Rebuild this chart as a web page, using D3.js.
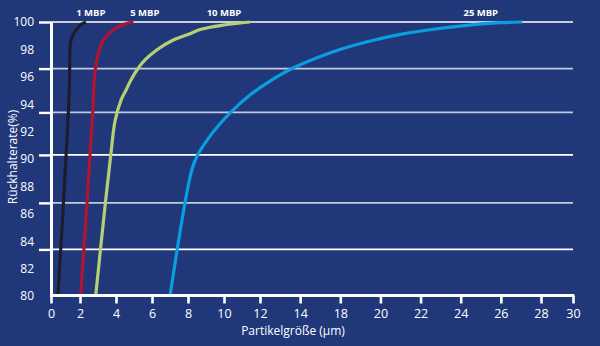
<!DOCTYPE html>
<html><head><meta charset="utf-8">
<script src="https://cdn.jsdelivr.net/npm/d3@7/dist/d3.min.js"></script>
<style>html,body{margin:0;padding:0;background:#20387a;} svg{display:block;}</style>
</head><body><svg id="c" width="600" height="346"></svg>
<script>
// ---- data ----
const xTicks = [0, 2, 4, 6, 8, 10, 12, 14, 18, 20, 22, 24, 26, 28, 30];
const yLabels = [80, 82, 84, 86, 88, 90, 92, 94, 96, 98, 100];
const gridValues = [100, 96.6, 93.4, 90.3, 86.8, 83.4];
const seriesNames = ["1 MBP", "5 MBP", "10 MBP", "25 MBP"];
const labelX = [2.6, 5.6, 10, 25];
const mbp1 = [[0.48,80],[1.26,95.0],[1.31,97.96],[1.38,98.69],[1.59,99.2],[1.83,99.56],[2.09,99.85],[2.33,100]];
const mbp5 = [[2.04,80],[2.71,93.4],[2.79,95.8],[2.93,97.2],[3.07,97.96],[3.21,98.47],[3.48,98.98],[3.85,99.42],[4.22,99.71],[4.67,99.93],[4.97,100]];
const mbp10 = [[2.87,80],[3.41,86.8],[3.71,90.3],[3.95,92.8],[4.28,94.3],[4.56,95.04],[4.83,95.77],[5.24,96.64],[5.61,97.23],[6.26,97.96],[7.18,98.69],[8.21,99.2],[8.67,99.45],[9.78,99.74],[11.44,100]];
const mbp25 = [[7.0,80],[8.21,89.2],[8.54,90.3],[9.07,91.4],[9.67,92.41],[10.44,93.5],[11.44,94.67],[12.5,95.69],[13.65,96.64],[17.3,97.83],[19.34,98.56],[20.99,99.1],[22.63,99.47],[24.32,99.76],[25.96,99.95],[27.06,100]];
const seriesData = [mbp1, mbp5, mbp10, mbp25];
const seriesColors = ["#1c1c2c", "#b2132e", "#b7cf73", "#0a9ee0"];

// ---- scales ----
const svg = d3.select("#c");
const FONT = "'Open Sans', 'Noto Sans', sans-serif";
// tick positions along the axis are uneven in the original; anchor by tick index
const xIdx = d3.scaleLinear().domain([0, 1, 6, 13, 14]).range([51, 80, 260, 541, 573]);
const x = d3.scaleLinear().domain(xTicks).range(xTicks.map((d, i) => xIdx(i)));
const y = d3.scaleLinear().domain([80, 100]).range([296, 22]);

// gridlines
const greyIdx = [1, 2, 4];
svg.append("g").selectAll("line").data(gridValues).join("line")
  .attr("x1", x(0)).attr("x2", x(30))
  .attr("y1", d => y(d)).attr("y2", d => y(d))
  .attr("stroke", (d, i) => greyIdx.includes(i) ? "#c3c9dc" : "#ffffff")
  .attr("stroke-width", 1.6);

// curves
const line = d3.line().x(d => x(d[0])).y(d => y(d[1])).curve(d3.curveCatmullRom.alpha(0.5));
svg.append("g").selectAll("path").data(seriesData).join("path")
  .attr("d", line).attr("fill", "none")
  .attr("stroke", (d, i) => seriesColors[i]).attr("stroke-width", 3.2)
  .attr("stroke-linejoin", "round");

// axes
const gx = svg.append("g").attr("transform", `translate(0,${y(80) - 0.5})`)
  .call(d3.axisBottom(x).tickValues(xTicks).tickSize(8).tickSizeOuter(0).tickPadding(6));
gx.select(".domain").attr("stroke", "#fff").attr("stroke-width", 3)
  .attr("d", `M${x(0)-1},0H${x(30)+1.3}`);
gx.selectAll(".tick line").attr("stroke", "#fff").attr("stroke-width", 2.6);
gx.selectAll(".tick text").attr("fill", "#fff").attr("font-family", FONT).attr("font-size", 12.5);

const gy = svg.append("g").attr("transform", `translate(${x(0)},0)`)
  .call(d3.axisLeft(y).tickValues(gridValues).tickSize(12).tickSizeOuter(0).tickFormat(""));
gy.select(".domain").attr("stroke", "#fff").attr("stroke-width", 3);
gy.selectAll(".tick line").attr("stroke", "#fff").attr("stroke-width", 2.4);

// y labels
svg.append("g").selectAll("text").data(yLabels).join("text")
  .attr("x", 34).attr("y", d => y(d)).attr("dy", "0.36em")
  .attr("text-anchor", "end").attr("fill", "#fff")
  .attr("font-family", FONT).attr("font-size", 12).text(d => d);

// titles
svg.append("text").attr("x", 293).attr("y", 335).attr("text-anchor", "middle")
  .attr("fill", "#fff").attr("font-family", FONT).attr("font-size", 12)
  .text("Partikelgröße (µm)");
svg.append("text").attr("transform", "translate(17,157) rotate(-90)")
  .attr("text-anchor", "middle").attr("fill", "#fff")
  .attr("font-family", FONT).attr("font-size", 12).text("Rückhalterate(%)");

// series labels
svg.append("g").selectAll("text").data(seriesNames).join("text")
  .attr("x", (d, i) => x(labelX[i])).attr("y", y(100) - 6)
  .attr("text-anchor", "middle").attr("fill", "#fff")
  .attr("font-family", FONT).attr("font-weight", 700).attr("font-size", 9.5)
  .text(d => d);
</script></body></html>
